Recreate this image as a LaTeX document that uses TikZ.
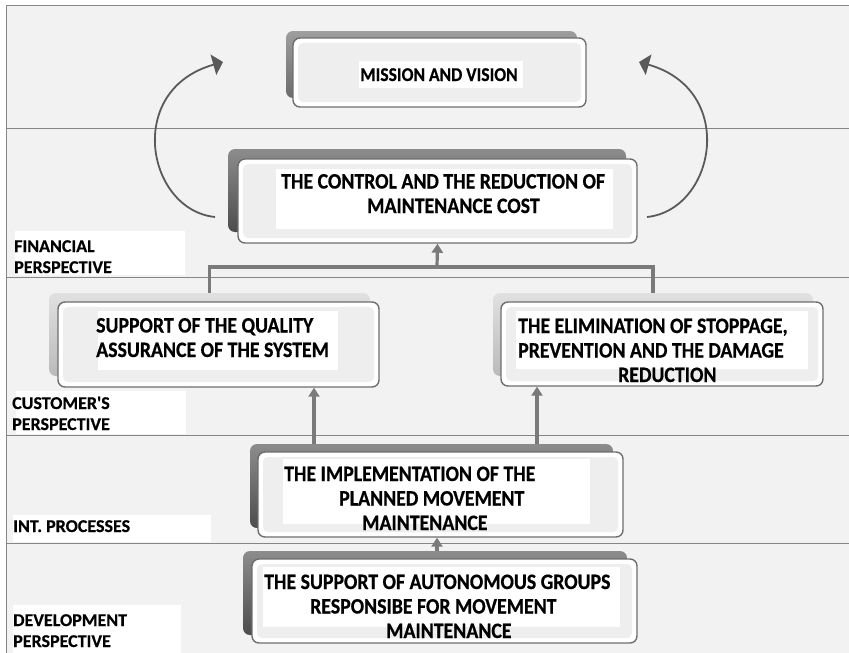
\documentclass[tikz,border=0pt]{standalone}
\usepackage{fontspec}
\setmainfont{Carlito}[BoldFeatures={FakeBold=0.5}]
\newfontfamily\tallfont{Carlito}[FakeStretch=0.9, BoldFeatures={FakeBold=0.6}]
\usetikzlibrary{arrows.meta}
\definecolor{bgc}{HTML}{F2F2F2}
\definecolor{sepc}{HTML}{868686}
\definecolor{connc}{HTML}{7A7A7A}
\definecolor{curvc}{HTML}{5A5A5A}
\definecolor{framec}{HTML}{6E6E6E}
\definecolor{innerc}{HTML}{EEEEEE}
\begin{document}
\begin{tikzpicture}[x=1pt,y=-1pt,
  sepline/.style={draw=sepc, line width=1pt},
  shdark/.style={rectangle, rounded corners=7pt, top color=black!45, bottom color=black!70, inner sep=0pt},
  shmid/.style={rectangle, rounded corners=7pt, top color=black!38, bottom color=black!58, inner sep=0pt},
  shlight/.style={rectangle, rounded corners=7pt, top color=black!12, bottom color=black!27, inner sep=0pt},
  front/.style={rectangle, rounded corners=7pt, draw=framec, line width=1.4pt, fill=white, inner sep=0pt,
    path picture={\fill[innerc, rounded corners=5pt]
      ([xshift=5pt,yshift=-5pt]path picture bounding box.north west) rectangle
      ([xshift=-5pt,yshift=5pt]path picture bounding box.south east);}},
  lab/.style={rectangle, fill=white, inner sep=0pt},
  boxtext/.style={font=\tallfont\bfseries\fontsize{22}{24.5}\selectfont, align=left, inner sep=0pt, anchor=base west},
  mtext/.style={font=\tallfont\bfseries\fontsize{19.5}{21}\selectfont, inner sep=0pt, anchor=base},
  persp/.style={font=\bfseries\fontsize{18}{21}\selectfont, align=left, inner sep=0pt, anchor=base west},
  conn/.style={draw=connc, line width=3.2pt},
  tip/.style={-{Triangle[width=11pt,length=9pt]}},
  curv/.style={draw=curvc, line width=1.8pt, -{Triangle[width=21pt,length=10pt]}}
]
\useasboundingbox (0,0) rectangle (849,653);
% background and bands
\fill[bgc] (6,5) rectangle (849,653);
\draw[sepline] (6,653) -- (6,5) -- (849,5);
\foreach \yy in {128,277,435,543} \draw[sepline] (6,\yy) -- (849,\yy);

% perspective labels (base anchor = last line)
\node[lab, minimum width=170pt, minimum height=44pt] (finbg) at (100,253) {};
\node[persp] (fin) at (14,273) {FINANCIAL\\PERSPECTIVE};
\node[lab, minimum width=170pt, minimum height=43pt] (custbg) at (101,412.5) {};
\node[persp] (cust) at (12,430) {CUSTOMER\textquotesingle S\\PERSPECTIVE};
\node[lab, minimum width=198pt, minimum height=27pt] (intbg) at (112,528.5) {};
\node[persp] (intp) at (13,532) {INT. PROCESSES};
\node[lab, minimum width=168pt, minimum height=48pt] (devbg) at (97,629) {};
\node[persp] (dev) at (13,647) {DEVELOPMENT\\PERSPECTIVE};

% mission
\node[shmid, minimum width=291pt, minimum height=67pt] (mis-s) at (431.5,64.5) {};
\node[front, minimum width=293pt, minimum height=69pt] (mis) at (439.5,72.5) {};
\node[lab, minimum width=164pt, minimum height=27pt] (mis-l) at (441,74.5) {};
\node[mtext] (mis-t) at (439,81) {MISSION AND VISION};

% control
\node[shdark, minimum width=398pt, minimum height=83pt] (ctrl-s) at (427,190.5) {};
\node[front, minimum width=399pt, minimum height=84pt] (ctrl) at (437.5,201) {};
\node[lab, minimum width=337pt, minimum height=60pt] (ctrl-l) at (444.5,199) {};
\node[boxtext] (ctrl-t) at (281,213) {THE CONTROL AND THE REDUCTION OF\\\hspace*{86pt}MAINTENANCE COST};

% left
\node[shlight, minimum width=321pt, minimum height=83pt] (left-s) at (209.5,334.5) {};
\node[front, minimum width=321pt, minimum height=85pt] (left) at (218.5,344.5) {};
\node[lab, minimum width=240pt, minimum height=59pt] (left-l) at (218,340.5) {};
\node[boxtext] (left-t) at (96,357) {SUPPORT OF THE QUALITY\\ASSURANCE OF THE SYSTEM};

% right
\node[shlight, minimum width=320pt, minimum height=83pt] (right-s) at (653,334.5) {};
\node[front, minimum width=322pt, minimum height=84pt] (right) at (662,344) {};
\node[lab, minimum width=292pt, minimum height=58pt] (right-l) at (662,340) {};
\node[boxtext] (right-t) at (518,382) {THE ELIMINATION OF STOPPAGE,\\PREVENTION AND THE DAMAGE\\\hspace*{100pt}REDUCTION};

% implementation
\node[shdark, minimum width=363pt, minimum height=84pt] (impl-s) at (431.5,486) {};
\node[front, minimum width=365pt, minimum height=85pt] (impl) at (440.5,494.5) {};
\node[lab, minimum width=307pt, minimum height=65pt] (impl-l) at (436.5,491.5) {};
\node[boxtext] (impl-t) at (284,530) {THE IMPLEMENTATION OF THE\\\hspace*{55pt}PLANNED MOVEMENT\\\hspace*{78pt}MAINTENANCE};

% development
\node[shdark, minimum width=384pt, minimum height=84pt] (bot-s) at (435,593) {};
\node[front, minimum width=385pt, minimum height=84pt] (bot) at (444.5,601) {};
\node[lab, minimum width=357pt, minimum height=60pt] (bot-l) at (441.5,597) {};
\node[boxtext] (bot-t) at (264,638) {THE SUPPORT OF AUTONOMOUS GROUPS\\\hspace*{46pt}RESPONSIBE FOR MOVEMENT\\\hspace*{122pt}MAINTENANCE};

% connectors
\coordinate (j) at (437,267);
\coordinate (xa) at (314,0);
\coordinate (xb) at (537,0);
\coordinate (xc) at (437,0);
\draw[conn] (left-s.north) |- (j) -| (right-s.north);
\draw[conn, tip] (j) -- (ctrl.south);
\draw[conn, tip] (xa |- impl-s.north) -- (xa |- left.south);
\draw[conn, tip] (xb |- impl-s.north) -- (xb |- right.south);
\draw[conn, tip] (xc |- bot-s.north) -- (xc |- impl.south);

% curved arrows
\coordinate (cl0) at (215,217);
\coordinate (cl1) at (223,62);
\coordinate (cr0) at (647,217);
\coordinate (cr1) at (639,62);
\draw[curv] (cl0) .. controls (147,210) and (124,90) .. (cl1);
\draw[curv] (cr0) .. controls (715,210) and (738,90) .. (cr1);
\end{tikzpicture}
\end{document}
